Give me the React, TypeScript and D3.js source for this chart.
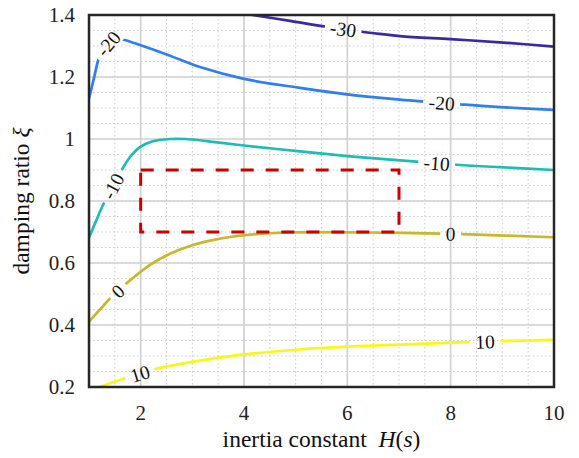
import React from 'react';
import * as d3 from 'd3';

// ---------- data ----------
const H_TICKS = [2, 4, 6, 8, 10];
const H_TICK_LABELS = ['2', '4', '6', '8', '10'];
const XI_TICKS = [0.2, 0.4, 0.6, 0.8, 1.0, 1.2, 1.4];
const XI_TICK_LABELS = ['0.2', '0.4', '0.6', '0.8', '1', '1.2', '1.4'];

const LEVELS = [-30, -20, -10, 0, 10];

const levelM30: [number, number][] = [
  [4.0, 1.4045], [4.17, 1.4], [4.89, 1.381], [5.6, 1.362], [6.28, 1.346], [6.63, 1.339],
  [7.02, 1.332], [7.99, 1.322], [8.95, 1.312], [10, 1.298],
];
const levelM20: [number, number][] = [
  [1.0, 1.131], [1.097, 1.197], [1.18, 1.255], [1.271, 1.29], [1.406, 1.313], [1.561, 1.323],
  [1.658, 1.321], [1.987, 1.303], [2.529, 1.271], [3.148, 1.232], [4.0, 1.194], [5.084, 1.165],
  [5.994, 1.144], [7.02, 1.127], [8.181, 1.112], [8.955, 1.103], [10, 1.094],
];
const levelM10: [number, number][] = [
  [1.0, 0.682], [1.135, 0.735], [1.271, 0.787], [1.633, 0.9], [1.794, 0.942], [1.987, 0.974],
  [2.219, 0.992], [2.568, 1.0], [2.858, 1.0], [3.148, 0.996], [3.439, 0.99], [4.0, 0.979],
  [5.084, 0.96], [5.994, 0.945], [7.02, 0.931], [8.123, 0.917], [8.955, 0.909], [10, 0.9],
];
const level0: [number, number][] = [
  [1.0, 0.411], [1.213, 0.45], [1.439, 0.491], [1.73, 0.535], [2.181, 0.594], [2.568, 0.63],
  [2.955, 0.655], [3.342, 0.672], [3.729, 0.684], [4.019, 0.69], [4.503, 0.696], [5.006, 0.699],
  [5.994, 0.699], [7.019, 0.697], [7.793, 0.695], [8.219, 0.693], [10, 0.683],
];
const level10: [number, number][] = [
  [1.12, 0.19], [1.213, 0.2], [1.697, 0.228], [2.239, 0.256], [3.148, 0.285], [4.0, 0.305],
  [5.084, 0.321], [5.994, 0.33], [7.019, 0.337], [7.987, 0.343], [8.941, 0.348], [10, 0.352],
];
const CONTOURS = [levelM30, levelM20, levelM10, level0, level10];

// contour labels: which level and at which H they sit
const LABEL_LEVELS = [-30, -20, -20, -10, -10, 0, 0, 10, 10];
const LABEL_H = [5.92, 1.374, 7.826, 1.465, 7.73, 1.561, 8.0, 1.987, 8.665];

// region of interest (dashed box)
const BOX_H = [2, 7];
const BOX_XI = [0.7, 0.9];

// ---------- layout / style ----------
const W = 579;
const HGT = 458;
const M = { left: 89, top: 15, right: 25, bottom: 71 };
const COLORS = ['#3d26a8', '#2f7ff2', '#1ebdb4', '#c8b82c', '#f8f814'];
const FONT = '"Liberation Serif", "Times New Roman", serif';

function interp(pts: [number, number][], h: number): number {
  for (let i = 0; i < pts.length - 1; i++) {
    const [h0, v0] = pts[i];
    const [h1, v1] = pts[i + 1];
    if (h >= h0 && h <= h1) return v0 + ((h - h0) / (h1 - h0)) * (v1 - v0);
  }
  return h < pts[0][0] ? pts[0][1] : pts[pts.length - 1][1];
}

function textWidth(s: string, fs: number) {
  let w = 0;
  for (const c of s) w += c === '-' ? 0.333 : 0.5;
  return w * fs;
}

export default function App() {
  const x = d3.scaleLinear().domain([1, 10]).range([M.left, W - M.right]);
  const y = d3.scaleLinear().domain([0.2, 1.4]).range([HGT - M.bottom, M.top]);
  const line = d3
    .line<[number, number]>()
    .x((d) => x(d[0]))
    .y((d) => y(d[1]))
    .curve(d3.curveCatmullRom.alpha(0.5));

  const hMinor = d3.range(1.5, 10, 0.5);
  const xiMinor = d3.range(0.25, 1.4, 0.05);
  const hMajor = H_TICKS.filter((t) => t < 10);
  const xiMajor = XI_TICKS.filter((t) => t > 0.2 && t < 1.4);

  const labelFs = 19.5;
  const labels = LABEL_LEVELS.map((lev, i) => {
    const ci = LEVELS.indexOf(lev);
    const pts = CONTOURS[ci];
    const h = LABEL_H[i];
    const v = interp(pts, h);
    const dh = x.invert(M.left + 12) - 1;
    const x1 = x(h - dh), y1 = y(interp(pts, h - dh));
    const x2 = x(h + dh), y2 = y(interp(pts, h + dh));
    const ang = (Math.atan2(y2 - y1, x2 - x1) * 180) / Math.PI;
    const text = String(lev);
    return { ci, cx: x(h), cy: y(v), ang, text, w: textWidth(text, labelFs) + 11 };
  });

  const pw = W - M.left - M.right;
  const ph = HGT - M.top - M.bottom;

  return (
    <svg
      width={W}
      height={HGT}
      style={{ position: 'absolute', left: 0, top: 0, display: 'block', background: '#fff' }}
      fontFamily={FONT}
    >
      <defs>
        <clipPath id="plot">
          <rect x={M.left} y={M.top} width={pw} height={ph} />
        </clipPath>
        {CONTOURS.map((_, ci) => (
          <mask id={`gap${ci}`} key={ci} maskUnits="userSpaceOnUse" x={0} y={0} width={W} height={HGT}>
            <rect x={0} y={0} width={W} height={HGT} fill="#fff" />
            {labels
              .filter((l) => l.ci === ci)
              .map((l, j) => (
                <rect
                  key={j}
                  x={-l.w / 2}
                  y={-9}
                  width={l.w}
                  height={18}
                  fill="#000"
                  transform={`translate(${l.cx},${l.cy}) rotate(${l.ang})`}
                />
              ))}
          </mask>
        ))}
      </defs>

      {/* minor grid */}
      <g stroke="#cdcdcd" strokeWidth={1} strokeDasharray="1.5 2.5">
        {hMinor.map((h) => (
          <line key={'hm' + h} x1={x(h)} x2={x(h)} y1={M.top} y2={HGT - M.bottom} />
        ))}
        {xiMinor.map((v) => (
          <line key={'vm' + v} x1={M.left} x2={W - M.right} y1={y(v)} y2={y(v)} />
        ))}
      </g>
      {/* major grid */}
      <g stroke="#d2d2d2" strokeWidth={1.7}>
        {hMajor.map((h) => (
          <line key={'hM' + h} x1={x(h)} x2={x(h)} y1={M.top} y2={HGT - M.bottom} />
        ))}
        {xiMajor.map((v) => (
          <line key={'vM' + v} x1={M.left} x2={W - M.right} y1={y(v)} y2={y(v)} />
        ))}
      </g>

      {/* contours */}
      <g clipPath="url(#plot)">
        {CONTOURS.map((pts, ci) => (
          <g key={ci} mask={`url(#gap${ci})`}>
            <path d={line(pts) || ''} fill="none" stroke={COLORS[ci]} strokeWidth={2.7} />
          </g>
        ))}
      </g>

      {/* contour labels */}
      <g fontSize={labelFs} fill="#111" textAnchor="middle">
        {labels.map((l, i) => (
          <text key={i} transform={`translate(${l.cx},${l.cy}) rotate(${l.ang})`} dy="0.35em">
            {l.text}
          </text>
        ))}
      </g>

      {/* dashed box */}
      <rect
        x={x(BOX_H[0])}
        y={y(BOX_XI[1])}
        width={x(BOX_H[1]) - x(BOX_H[0])}
        height={y(BOX_XI[0]) - y(BOX_XI[1])}
        fill="none"
        stroke="#cc0000"
        strokeWidth={3}
        strokeDasharray="13 12"
      />

      {/* frame */}
      <rect x={M.left} y={M.top} width={pw} height={ph} fill="none" stroke="#262626" strokeWidth={2.5} />

      {/* tick labels */}
      <g fontSize={21} fill="#222">
        {H_TICKS.map((h, i) => (
          <text key={'xt' + h} x={x(h)} y={HGT - M.bottom + 33} textAnchor="middle">
            {H_TICK_LABELS[i]}
          </text>
        ))}
        {XI_TICKS.map((v, i) => (
          <text key={'yt' + v} x={M.left - 14} y={y(v) + 7} textAnchor="end">
            {XI_TICK_LABELS[i]}
          </text>
        ))}
      </g>

      {/* axis titles */}
      <text x={M.left + pw / 2} y={447} fontSize={23.5} fill="#111" textAnchor="middle">
        inertia constant{'\u2002'}
        <tspan fontStyle="italic">H</tspan>(<tspan fontStyle="italic">s</tspan>)
      </text>
      <text
        transform={`translate(29,${M.top + ph / 2}) rotate(-90)`}
        fontSize={23.5}
        fill="#111"
        textAnchor="middle"
      >
        damping ratio <tspan fontStyle="italic">ξ</tspan>
      </text>
    </svg>
  );
}
